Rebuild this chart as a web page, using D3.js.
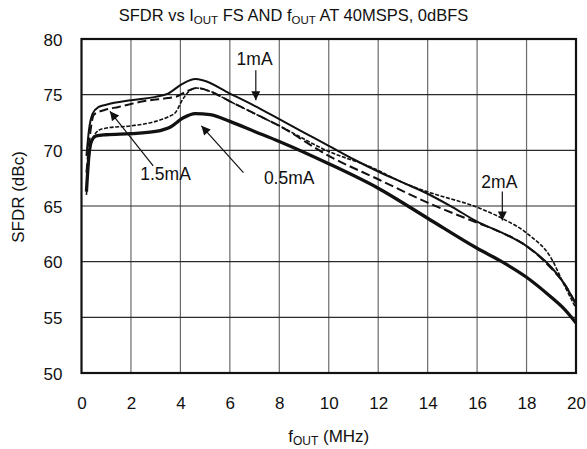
<!DOCTYPE html>
<html><head><meta charset="utf-8">
<script src="https://cdn.jsdelivr.net/npm/d3@7"></script>
<style>
html,body{margin:0;padding:0;background:#fff;}
svg{display:block;font-family:"Liberation Sans",Arial,Helvetica,sans-serif;}
</style></head>
<body><svg id="c" width="587" height="449"></svg>
<script>
// ---- data ----
const xTicks = [0,2,4,6,8,10,12,14,16,18,20];
const yTicks = [50,55,60,65,70,75,80];

const f05 = [0.2,0.3,0.4,0.6,1.0,2.0,3.0,3.6,4.1,4.6,5.2,6.0,7.0,8.0,10.0,12.0,14.0,16.0,17.0,18.0,19.0,19.5,20.0];
const v05 = [66.3,69.5,70.8,71.3,71.4,71.5,71.7,72.1,72.9,73.3,73.2,72.6,71.7,70.8,68.8,66.6,63.9,61.2,60.0,58.6,56.8,55.8,54.5];

const f1 = [0.2,0.3,0.45,0.7,1.0,2.0,3.0,3.5,4.1,4.6,4.9,6.0,7.0,8.0,9.0,10.0,11.0,12.0,13.0,14.0,15.0,16.0,17.0,18.0,19.0,19.5,20.0];
const v1 = [69.5,71.8,73.3,73.9,74.1,74.5,74.8,75.1,76.0,76.4,76.3,75.1,74.0,72.8,71.6,70.4,69.2,68.1,67.1,66.1,64.9,63.6,62.6,61.4,59.5,58.1,56.2];

const f15 = [0.2,0.35,0.5,0.9,1.5,2.5,3.5,3.8,4.25,4.65,5.2,6.0,7.0,8.0,10.0,12.0,14.0,16.0,16.8,18.0,19.0,19.5,20.0];
const v15 = [68.0,71.5,73.2,73.6,73.9,74.4,74.7,74.8,75.3,75.6,75.3,74.4,73.3,72.2,69.5,67.4,65.3,63.5,62.8,61.4,59.4,58.1,56.2];

const f2 = [0.2,0.3,0.45,0.7,1.0,2.0,3.0,3.5,3.8,4.1,4.3,4.65,5.2,6.0,7.0,8.0,10.0,11.7,13.1,14.1,16.1,17.0,18.1,19.0,19.5,20.0];
const v2 = [66.0,69.3,71.0,71.8,72.0,72.2,72.6,73.0,73.4,74.6,75.2,75.6,75.3,74.4,73.3,72.2,69.9,68.5,67.0,66.2,64.8,63.9,62.4,60.3,58.0,55.8];

const labels = ["0.5mA","1mA","1.5mA","2mA"];
// annotation: text position (data units) and arrow from -> to
const annText = [[8.4,67.5],[7.0,78.2],[3.4,67.9],[16.9,67.2]];
const annFrom = [[6.55,68.0],[7.05,77.2],[2.9,68.6],[17.02,66.3]];
const annTo   = [[4.85,72.2],[7.05,74.5],[1.15,73.5],[17.02,63.7]];

// ---- layout ----
const W=587,H=449;
const m={l:81.5,r:11,t:39,b:76};
const svg=d3.select("#c");
const x=d3.scaleLinear().domain([0,20]).range([m.l,W-m.r]);
const y=d3.scaleLinear().domain([50,80]).range([H-m.b,m.t]);

// grid
svg.append("g").selectAll("line").data(xTicks.slice(1,-1)).join("line")
  .attr("x1",d=>x(d)).attr("x2",d=>x(d)).attr("y1",y(50)).attr("y2",y(80))
  .attr("stroke","#6a6a6a").attr("stroke-width",1.2);
svg.append("g").selectAll("line").data(yTicks.slice(1,-1)).join("line")
  .attr("y1",d=>y(d)).attr("y2",d=>y(d)).attr("x1",x(0)).attr("x2",x(20))
  .attr("stroke","#2a2a2a").attr("stroke-width",1.2);

// axes tick labels
const xAxis=d3.axisBottom(x).tickValues(xTicks).tickSize(0).tickPadding(0).tickFormat(d3.format("d"));
const gx=svg.append("g").attr("transform",`translate(0,${y(50)})`).call(xAxis);
gx.select(".domain").remove();
gx.selectAll("text").attr("dy",null).attr("y",36).attr("font-size",17).attr("fill","#111")
  .attr("font-family","Liberation Sans, Arial, sans-serif");
const yAxis=d3.axisLeft(y).tickValues(yTicks).tickSize(0).tickPadding(0).tickFormat(d3.format("d"));
const gy=svg.append("g").attr("transform",`translate(${x(0)-19},0)`).call(yAxis);
gy.select(".domain").remove();
gy.selectAll("text").attr("dy","0.36em").attr("x",0).attr("font-size",17).attr("fill","#111")
  .attr("font-family","Liberation Sans, Arial, sans-serif");

// clip
svg.append("clipPath").attr("id","clip").append("rect")
  .attr("x",x(0)).attr("y",y(80)).attr("width",x(20)-x(0)).attr("height",y(50)-y(80));

const line=d3.line().x(d=>x(d[0])).y(d=>y(d[1])).curve(d3.curveMonotoneX);
const series=[
  {f:f05,v:v05,w:3.3,dash:null},
  {f:f1,v:v1,w:2,dash:null},
  {f:f15,v:v15,w:2,dash:"9,4"},
  {f:f2,v:v2,w:1.6,dash:"4,1.6"}
];
const gl=svg.append("g").attr("clip-path","url(#clip)");
series.forEach(s=>{
  gl.append("path").datum(s.f.map((f,i)=>[f,s.v[i]]))
    .attr("d",line).attr("fill","none").attr("stroke","#111")
    .attr("stroke-width",s.w).attr("stroke-dasharray",s.dash)
    .attr("stroke-linejoin","round");
});

// border
svg.append("rect").attr("x",x(0)).attr("y",y(80)).attr("width",x(20)-x(0)).attr("height",y(50)-y(80))
  .attr("fill","none").attr("stroke","#111").attr("stroke-width",2.2);

// annotations
svg.append("defs").append("marker").attr("id","ah").attr("viewBox","0 0 10 10")
  .attr("refX",10).attr("refY",5).attr("markerWidth",10).attr("markerHeight",9)
  .attr("markerUnits","userSpaceOnUse").attr("orient","auto")
  .append("path").attr("d","M0,0 L10,5 L0,10 z").attr("fill","#111");
labels.forEach((t,i)=>{
  svg.append("line").attr("x1",x(annFrom[i][0])).attr("y1",y(annFrom[i][1]))
    .attr("x2",x(annTo[i][0])).attr("y2",y(annTo[i][1]))
    .attr("stroke","#111").attr("stroke-width",1.2).attr("marker-end","url(#ah)");
  svg.append("text").attr("x",x(annText[i][0])).attr("y",y(annText[i][1]))
    .attr("text-anchor","middle").attr("dy","0.36em").attr("font-size",17.5).attr("fill","#111").text(t);
});

// title
const title=svg.append("text").attr("x",W/2).attr("y",21).attr("text-anchor","middle")
  .attr("font-size",16.5).attr("fill","#111");
title.append("tspan").text("SFDR vs I");
title.append("tspan").attr("font-size",11.5).attr("dy",3).text("OUT");
title.append("tspan").attr("dy",-3).text(" FS AND f");
title.append("tspan").attr("font-size",11.5).attr("dy",3).text("OUT");
title.append("tspan").attr("dy",-3).text(" AT 40MSPS, 0dBFS");

// x axis title
const xt=svg.append("text").attr("x",(x(0)+x(20))/2).attr("y",442).attr("text-anchor","middle")
  .attr("font-size",17).attr("fill","#111");
xt.append("tspan").text("f");
xt.append("tspan").attr("font-size",12).attr("dy",3).text("OUT");
xt.append("tspan").attr("dy",-3).text(" (MHz)");

// y axis title
svg.append("text").attr("transform",`translate(24,197) rotate(-90)`).attr("text-anchor","middle")
  .attr("font-size",17).attr("fill","#111").text("SFDR (dBc)");
</script></body></html>
